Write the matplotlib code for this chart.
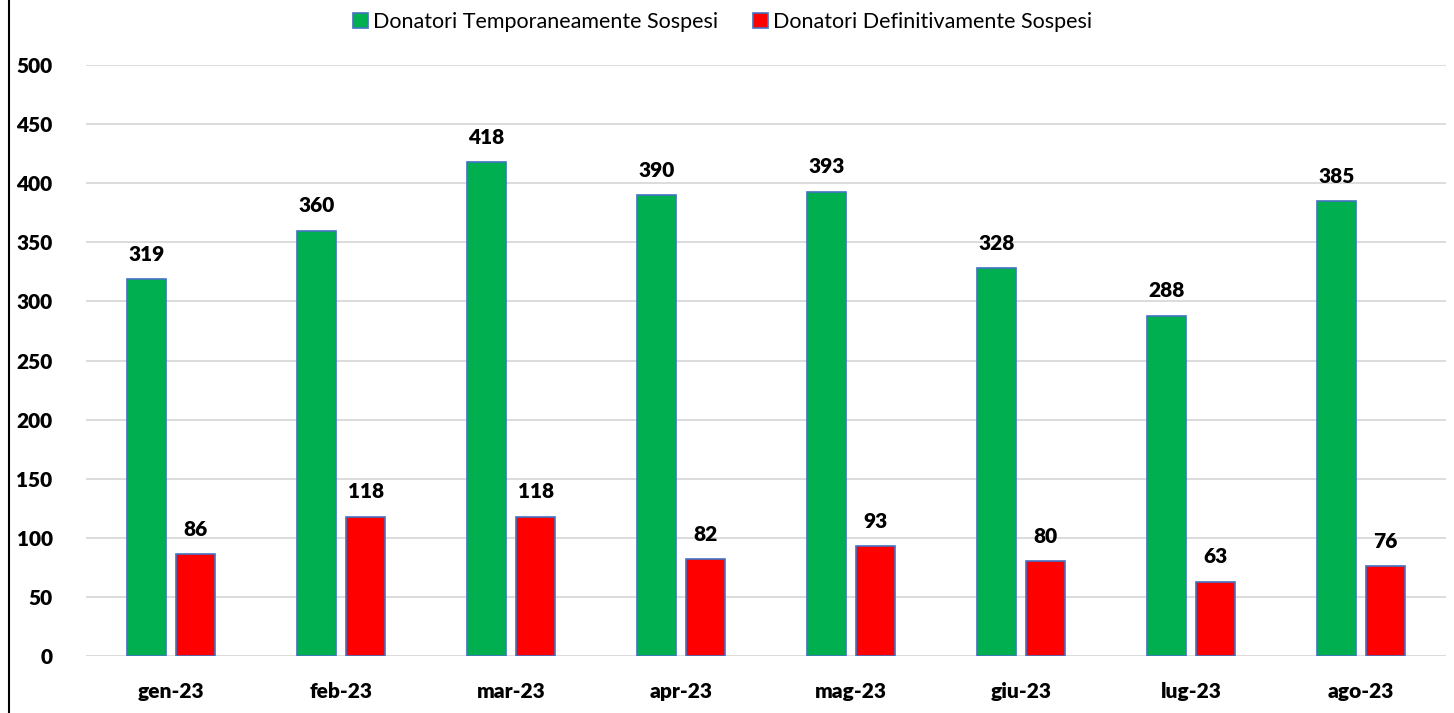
import numpy as np
import matplotlib
matplotlib.use('Agg')
import matplotlib.pyplot as plt
from matplotlib.lines import Line2D

mesi = ['gen-23', 'feb-23', 'mar-23', 'apr-23', 'mag-23', 'giu-23', 'lug-23', 'ago-23']
temporanei = [319, 360, 418, 390, 393, 328, 288, 385]
definitivi = [86, 118, 118, 82, 93, 80, 63, 76]

plt.rcParams['font.family'] = ['Lato', 'DejaVu Sans']

fig = plt.figure(figsize=(14.54, 7.13), dpi=100)
ax = fig.add_axes([0.0591, 0.0799, 0.9354, 0.8289])

x = np.arange(len(mesi))
w = 0.23
off = 0.145
b1 = ax.bar(x - off, temporanei, w, color='#00B050', edgecolor='#4472C4', linewidth=1.2,
            label='Donatori Temporaneamente Sospesi', zorder=3)
b2 = ax.bar(x + off, definitivi, w, color='#FF0000', edgecolor='#4472C4', linewidth=1.2,
            label='Donatori Definitivamente Sospesi', zorder=3)

for bars in (b1, b2):
    for r in bars:
        ax.annotate(str(int(r.get_height())), (r.get_x() + r.get_width() / 2, r.get_height()),
                    xytext=(0, 11), textcoords='offset points', ha='center', va='bottom',
                    fontsize=15, fontweight='heavy')

ax.set_xlim(-0.5, len(mesi) - 0.5)
ax.set_ylim(0, 500)
ax.set_yticks(range(0, 501, 50))
ax.set_xticks(x)
ax.set_xticklabels(mesi)
ax.yaxis.grid(True, color='#D9D9D9', linewidth=1.3, zorder=0)
ax.set_axisbelow(True)
for s in ax.spines.values():
    s.set_visible(False)
ax.tick_params(axis='both', length=0, labelsize=15)
ax.tick_params(axis='y', pad=24)
ax.tick_params(axis='x', pad=19)
for t in ax.get_xticklabels() + ax.get_yticklabels():
    t.set_fontweight('heavy')

fig.legend(loc='upper center', bbox_to_anchor=(0.497, 1.01), ncol=2, frameon=False,
           fontsize=15.5, handlelength=0.7, handleheight=0.7, handletextpad=0.25, columnspacing=1.6)

fig.add_artist(Line2D([9 / 1454, 9 / 1454], [0, 1], color='black', linewidth=1.5,
                      transform=fig.transFigure))

fig.savefig('out.png', dpi=100)
